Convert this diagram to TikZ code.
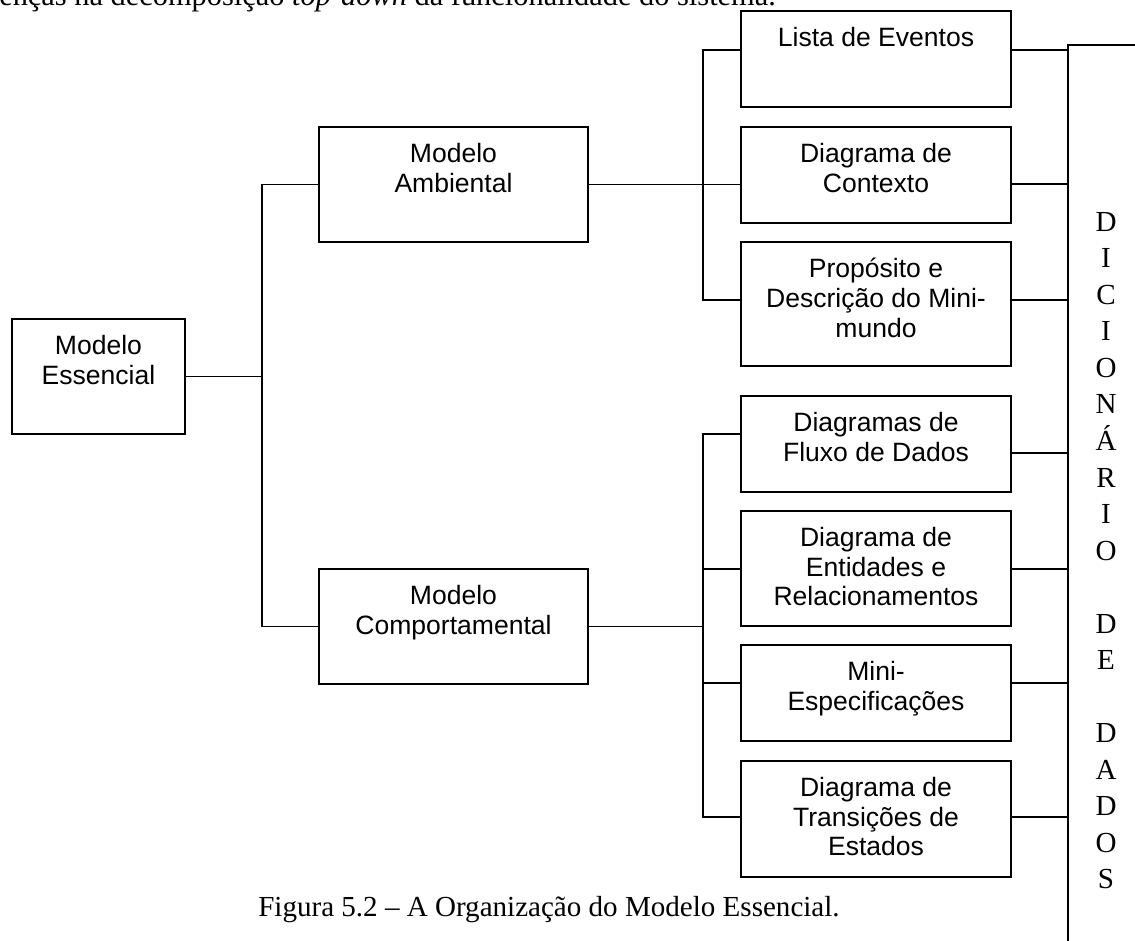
\documentclass[tikz,border=0pt]{standalone}
\usepackage{fontspec}
\setmainfont{Liberation Serif}
\setsansfont{Liberation Sans}
\begin{document}
\begin{tikzpicture}[x=0.75pt,y=-0.75pt,
  box/.style 2 args={draw, line width=1.6pt, inner sep=0pt, outer sep=0pt,
    minimum width=#1*0.75pt, minimum height=#2*0.75pt},
  boxtext/.style={anchor=north, yshift=-12pt, align=center, inner sep=0pt,
    font=\sffamily\fontsize{19.9}{22.3}\selectfont},
  link/.style={line width=1.4pt},
  serif/.style={inner sep=0pt, font=\fontsize{21.8}{27.4}\selectfont}]

\useasboundingbox (0,0) rectangle (1135,940);

% running text above the figure
\node[inner sep=0pt, anchor=base west, font=\fontsize{22.8}{27.4}\selectfont] (body) at (-1,5)
  {enças na decomposição \textit{top-down} da funcionalidade do sistema.};

% first and second levels
\node[box={173}{115}, label={[boxtext]north:{Modelo\\Essencial}}] (ess) at (98.5,376.5) {};
\node[box={269}{115}, label={[boxtext]north:{Modelo\\Ambiental}}] (amb) at (453.5,184.5) {};
\node[box={269}{115}, label={[boxtext]north:{Modelo\\Comportamental}}] (comp) at (453.5,626.5) {};

% third level: environmental model
\node[box={270}{96},  label={[boxtext]north:{Lista de Eventos}}] (lista) at (876,59) {};
\node[box={270}{96},  label={[boxtext]north:{Diagrama de\\Contexto}}] (cont) at (876,175) {};
\node[box={270}{124}, label={[boxtext]north:{Propósito e\\Descrição do Mini-\\mundo}}] (prop) at (876,304) {};

% third level: behavioural model
\node[box={270}{96},  label={[boxtext]north:{Diagramas de\\Fluxo de Dados}}] (fluxo) at (876,444) {};
\node[box={270}{115}, label={[boxtext]north:{Diagrama de\\Entidades e\\Relacionamentos}}] (ent) at (876,568.5) {};
\node[box={270}{96},  label={[boxtext]north:{Mini-\\Especificações}}] (mini) at (876,693) {};
\node[box={270}{116}, label={[boxtext]north:{Diagrama de\\Transições de\\Estados}}] (trans) at (876,819) {};

% bus positions and connection heights
\coordinate (trunk) at (262,0);
\coordinate (busA) at (703,0);
\coordinate (busB) at (703,0);
\coordinate (dict) at (1068,45);
\coordinate (yLista) at (0,50);
\coordinate (yCont) at (0,184);
\coordinate (yProp) at (0,300);
\coordinate (yFluxL) at (0,434);
\coordinate (yFluxR) at (0,453);
\coordinate (yEnt) at (0,569);
\coordinate (yMini) at (0,683);
\coordinate (yTrans) at (0,817);

% root to second level
\draw[link] (ess.east) -- (ess.east -| trunk);
\draw[link] (amb.west) -| (trunk |- comp.west) -- (comp.west);

% environmental model branch
\draw[link] (amb.east) -- (amb.east -| cont.west);
\draw[link] (lista.west |- yLista) -| (busA |- yProp) -- (prop.west |- yProp);

% behavioural model branch
\draw[link] (comp.east) -- (comp.east -| busB);
\draw[link] (fluxo.west |- yFluxL) -| (busB |- yTrans) -- (trans.west |- yTrans);
\draw[link] (busB |- yEnt) -- (ent.west |- yEnt);
\draw[link] (busB |- yMini) -- (mini.west |- yMini);

% data dictionary frame
\draw[line width=1.6pt] (1160,45) -- (dict) -- (dict |- 0,960);

% links into the data dictionary
\draw[link] (lista.east |- yLista) -- (dict |- yLista);
\draw[link] (cont.east |- yCont) -- (dict |- yCont);
\draw[link] (prop.east |- yProp) -- (dict |- yProp);
\draw[link] (fluxo.east |- yFluxR) -- (dict |- yFluxR);
\draw[link] (ent.east |- yEnt) -- (dict |- yEnt);
\draw[link] (mini.east |- yMini) -- (dict |- yMini);
\draw[link] (trans.east |- yTrans) -- (dict |- yTrans);

\node[serif, anchor=north, align=center] (dictext) at (1106,212)
  {D\\I\\C\\I\\O\\N\\Á\\R\\I\\O\\\mbox{}\\D\\E\\\mbox{}\\D\\A\\D\\O\\S};

% caption
\node[serif, anchor=base west] (caption) at (258,916)
  {Figura 5.2 – A Organização do Modelo Essencial.};
\end{tikzpicture}
\end{document}
